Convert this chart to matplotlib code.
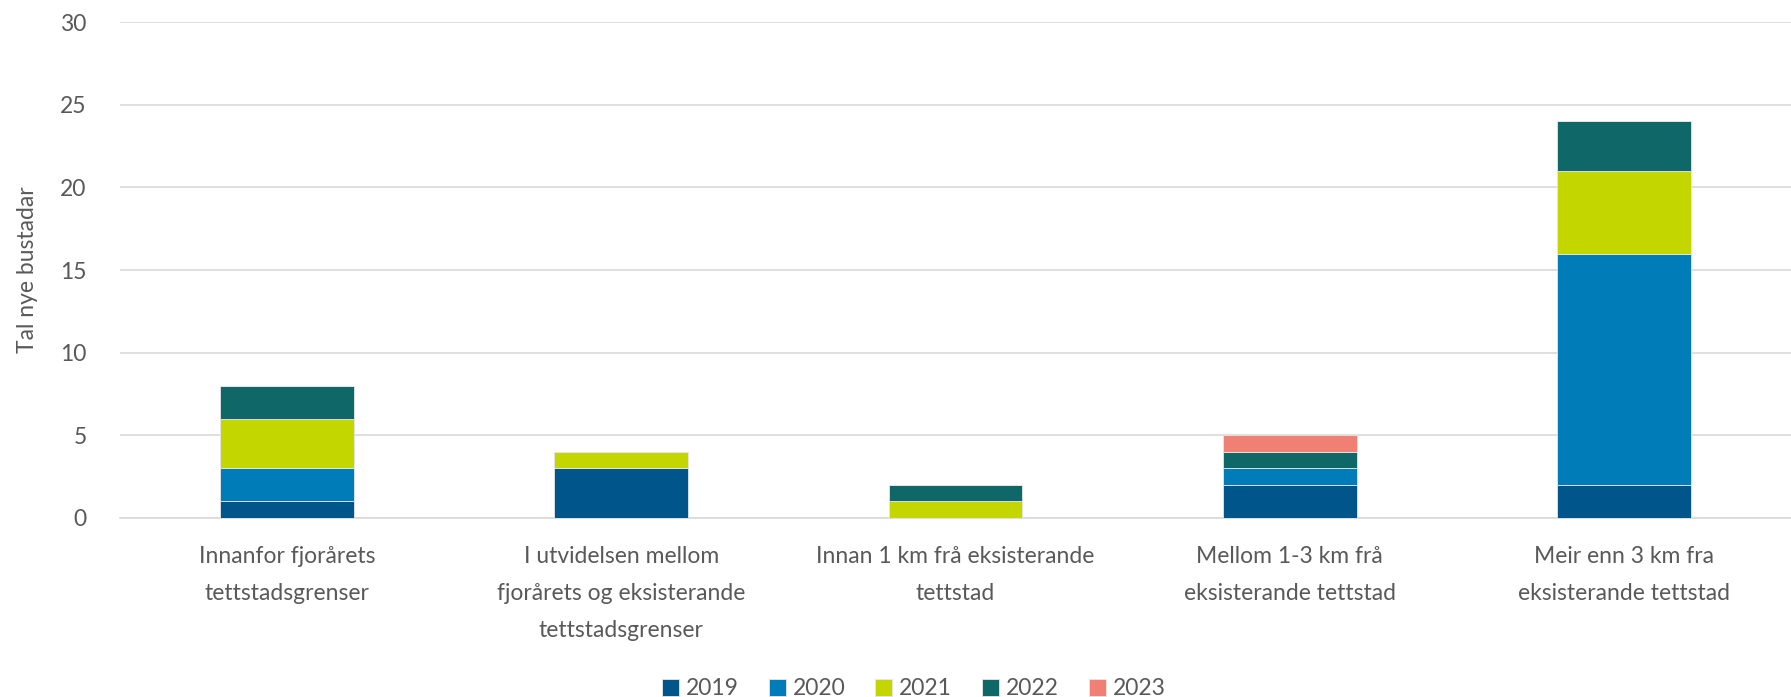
import numpy as np
import matplotlib.pyplot as plt

categories = ["Innanfor fjorårets\ntettstadsgrenser",
              "I utvidelsen mellom\nfjorårets og eksisterande\ntettstadsgrenser",
              "Innan 1 km frå eksisterande\ntettstad",
              "Mellom 1-3 km frå\neksisterande tettstad",
              "Meir enn 3 km fra\neksisterande tettstad"]
years = ["2019", "2020", "2021", "2022", "2023"]
v2019 = [1, 3, 0, 2, 2]
v2020 = [2, 0, 0, 1, 14]
v2021 = [3, 1, 1, 0, 5]
v2022 = [2, 0, 1, 1, 3]
v2023 = [0, 0, 0, 1, 0]
colors = ["#00558a", "#007db8", "#c4d600", "#0f6767", "#ef8073"]

plt.rcParams['font.family'] = ['Lato', 'DejaVu Sans']
grey = '#595959'
fs = 16.5

fig = plt.figure(figsize=(17.91, 6.97), dpi=100)
ax = fig.add_axes([0.067, 0.257, 0.933, 0.711])

x = np.arange(len(categories))
bottom = np.zeros(len(categories))
for year, vals, c in zip(years, [v2019, v2020, v2021, v2022, v2023], colors):
    vals = np.array(vals, dtype=float)
    ax.bar(x, vals, 0.4, bottom=bottom, color=c, label=year,
           edgecolor='#e6e6e6', linewidth=0.6, zorder=3)
    bottom += vals

ax.set_xlim(-0.5, len(categories) - 0.5)
ax.set_ylim(0, 30)
ax.set_yticks(range(0, 31, 5))
ax.yaxis.grid(True, color='#d9d9d9', linewidth=1.2, zorder=0)
for s in ['top', 'right', 'left']:
    ax.spines[s].set_visible(False)
ax.spines['bottom'].set_color('#d9d9d9')
ax.spines['bottom'].set_linewidth(1.2)
ax.tick_params(axis='both', length=0, colors=grey, labelsize=fs)
ax.tick_params(axis='y', pad=24)
ax.tick_params(axis='x', pad=20)
ax.set_xticks(x)
ax.set_xticklabels(categories, linespacing=1.95)
ax.set_ylabel('Tal nye bustadar', color=grey, fontsize=fs, labelpad=16)

ax.legend(loc='center', bbox_to_anchor=(0.475, -0.345), ncol=5, frameon=False,
          fontsize=fs, labelcolor=grey, handlelength=0.75, handleheight=0.75,
          handletextpad=0.3, columnspacing=1.3)

fig.savefig('out.png', dpi=100)
